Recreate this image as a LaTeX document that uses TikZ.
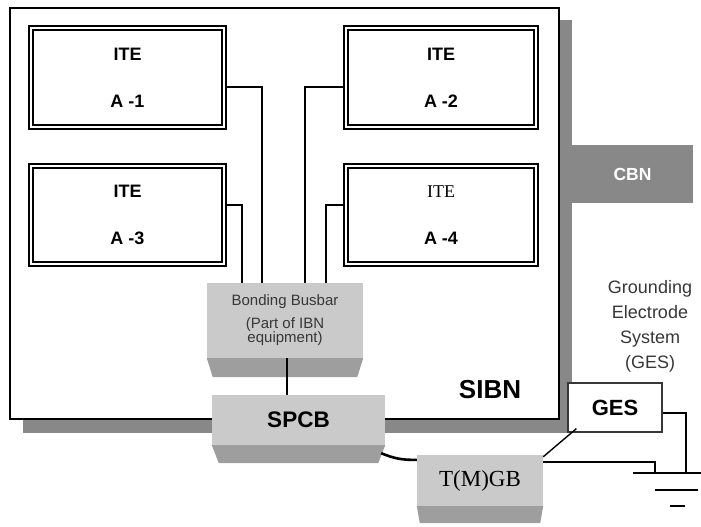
\documentclass[tikz,border=0pt]{standalone}
\usepackage{fontspec}
\setmainfont{Liberation Sans}
\newfontfamily\romanfont{Liberation Serif}
\usetikzlibrary{positioning,calc}
\definecolor{sbShadow}{RGB}{136,136,136}
\definecolor{sbFace}{RGB}{202,202,202}
\definecolor{sbSide}{RGB}{158,158,158}
\definecolor{sbText}{RGB}{55,55,55}
\tikzset{
  itebox/.style={draw, line width=2.2pt, double=white, double distance=1.2pt, fill=white,
    align=center, inner sep=0pt, font=\fontsize{18}{21}\selectfont\bfseries},
  facebox/.style={fill=sbFace, inner sep=0pt, align=center},
  wire/.style={line width=1.6pt},
  thickwire/.style={line width=2.6pt},
  gwire/.style={line width=1.4pt}
}
% darker bottom face under a bevelled box: node, depth, inset
\newcommand{\bevelbase}[3]{%
  \fill[sbSide] (#1.south west) -- (#1.south east)
    -- ([xshift=-#3pt,yshift=-#2pt]#1.south east)
    -- ([xshift=#3pt,yshift=-#2pt]#1.south west) -- cycle;}
\begin{document}
\begin{tikzpicture}[x=1pt,y=-1pt]
  \useasboundingbox (0,0) rectangle (701,527);

  % SIBN room with its shadow
  \fill[sbShadow] (23,20) rectangle (572,433);
  \node[draw, line width=2.4pt, fill=white, minimum width=549pt, minimum height=411pt, inner sep=0pt] (sibn) at (284.5,213.5) {};
  \node[font=\fontsize{26}{30}\selectfont\bfseries] (sibnlabel) at (490,390) {SIBN};

  % CBN
  \node[fill=sbShadow, text=white, minimum width=121pt, minimum height=58pt,
    font=\fontsize{17.5}{20}\selectfont\bfseries] (cbn) at (632.5,174) {CBN};

  % ITE cabinets
  \node[itebox, minimum width=193pt, minimum height=99pt] (a1) at (127.5,77.5) {ITE\\[26pt]A -1};
  \node[itebox, minimum width=190pt, minimum height=99pt] (a2) at (441,77.5) {ITE\\[26pt]A -2};
  \node[itebox, minimum width=193pt, minimum height=98pt] (a3) at (127.5,215) {ITE\\[26pt]A -3};
  \node[itebox, minimum width=190pt, minimum height=98pt] (a4) at (441,215) {{\romanfont\mdseries ITE}\\[26pt]A -4};

  % Bonding busbar
  \node[facebox, minimum width=156pt, minimum height=75pt, text=sbText,
    font=\fontsize{15}{14}\selectfont] (busbar) at (285,320.5) {Bonding Busbar\\[9pt](Part of IBN\\equipment)};
  \bevelbase{busbar}{19}{6}
  \draw[wire] ([yshift=-9.5pt]a1.east) -| ([xshift=-23pt]busbar.north);
  \draw[wire] ([yshift=10pt]a3.east) -| ([xshift=-43pt]busbar.north);
  \draw[wire] ([yshift=-9.5pt]a2.west) -| ([xshift=20pt]busbar.north);
  \draw[wire] ([yshift=10pt]a4.west) -| ([xshift=41pt]busbar.north);

  % SPCB
  \node[facebox, minimum width=173pt, minimum height=50pt,
    font=\fontsize{22.5}{26}\selectfont\bfseries] (spcb) at (298.5,420) {SPCB};
  \bevelbase{spcb}{18}{7}
  \draw[thickwire] ([xshift=2pt]busbar.south) -- ([xshift=2pt]busbar.south |- spcb.north);

  % T(M)GB
  \node[facebox, minimum width=126pt, minimum height=51pt,
    font=\romanfont\fontsize{23}{27}\selectfont] (tmgb) at (480,480.5) {T(M)GB};
  \bevelbase{tmgb}{17}{3}
  \draw[thickwire] ([xshift=-4pt,yshift=-8pt]spcb.south east) to[bend right=12] ([yshift=-5pt]tmgb.north west);

  % GES and grounding electrode
  \node[draw=sbText, line width=1.2pt, fill=white, minimum width=94pt, minimum height=49pt,
    font=\fontsize{22}{26}\selectfont\bfseries] (ges) at (615,407.5) {GES};
  \node[align=center, text=sbText, font=\fontsize{18}{25}\selectfont] (geslabel) at (650,326.5) {Grounding\\Electrode\\System\\(GES)};
  \coordinate (gnd) at (677,473);
  \draw[gwire] ([xshift=9pt,yshift=4pt]ges.south west) -- ([yshift=-2pt]tmgb.north east);
  \draw[gwire] ([yshift=-7pt]tmgb.north east) -| ([xshift=-22pt]gnd);
  \draw[gwire] ([yshift=-5.5pt]ges.east) -| ([xshift=9pt]gnd);
  \draw[line width=2pt] ($(gnd)+(-44,0)$) -- ($(gnd)+(24,0)$);
  \draw[line width=2pt] ($(gnd)+(-22,17)$) -- ($(gnd)+(21,17)$);
  \draw[line width=2.5pt] ($(gnd)+(-7,33)$) -- ($(gnd)+(8,33)$);
\end{tikzpicture}
\end{document}
